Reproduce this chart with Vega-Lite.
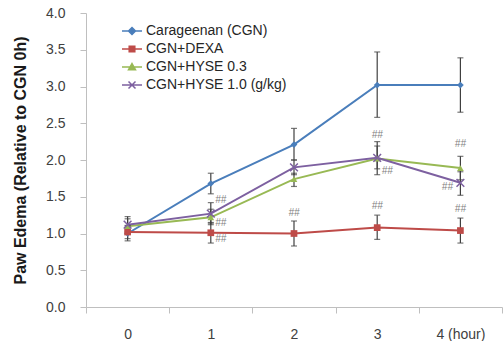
{
  "$schema": "https://vega.github.io/schema/vega-lite/v6.json",
  "width": 416,
  "height": 294,
  "padding": {"left": 12, "top": 6, "right": 0, "bottom": 0},
  "config": {
    "view": {"stroke": null},
    "font": "Liberation Sans",
    "axisY": {
      "grid": false,
      "domainColor": "#BFBFBF",
      "tickColor": "#BFBFBF",
      "tickSize": 6,
      "labelPadding": 15,
      "labelFontSize": 14,
      "labelColor": "#404040",
      "titleFontSize": 16,
      "titleFontWeight": "bold",
      "titleColor": "#1a1a1a",
      "titlePadding": 17
    }
  },
  "datasets": {
    "series": [
      {"series": "Carageenan (CGN)", "hour": "0", "value": 1.0, "lo": 0.9, "hi": 1.1},
      {"series": "Carageenan (CGN)", "hour": "1", "value": 1.68, "lo": 1.54, "hi": 1.82},
      {"series": "Carageenan (CGN)", "hour": "2", "value": 2.21, "lo": 2.0, "hi": 2.43},
      {"series": "Carageenan (CGN)", "hour": "3", "value": 3.02, "lo": 2.58, "hi": 3.47},
      {"series": "Carageenan (CGN)", "hour": "4 (hour)", "value": 3.02, "lo": 2.65, "hi": 3.39},
      {"series": "CGN+DEXA", "hour": "0", "value": 1.02, "lo": 0.93, "hi": 1.11},
      {"series": "CGN+DEXA", "hour": "1", "value": 1.01, "lo": 0.87, "hi": 1.15},
      {"series": "CGN+DEXA", "hour": "2", "value": 1.0, "lo": 0.83, "hi": 1.17},
      {"series": "CGN+DEXA", "hour": "3", "value": 1.08, "lo": 0.92, "hi": 1.25},
      {"series": "CGN+DEXA", "hour": "4 (hour)", "value": 1.04, "lo": 0.87, "hi": 1.21},
      {"series": "CGN+HYSE 0.3", "hour": "0", "value": 1.1, "lo": 1.0, "hi": 1.2},
      {"series": "CGN+HYSE 0.3", "hour": "1", "value": 1.22, "lo": 1.12, "hi": 1.33},
      {"series": "CGN+HYSE 0.3", "hour": "2", "value": 1.74, "lo": 1.64, "hi": 1.82},
      {"series": "CGN+HYSE 0.3", "hour": "3", "value": 2.02, "lo": 1.88, "hi": 2.19},
      {"series": "CGN+HYSE 0.3", "hour": "4 (hour)", "value": 1.89, "lo": 1.73, "hi": 2.05},
      {"series": "CGN+HYSE 1.0 (g/kg)", "hour": "0", "value": 1.12, "lo": 1.02, "hi": 1.23},
      {"series": "CGN+HYSE 1.0 (g/kg)", "hour": "1", "value": 1.27, "lo": 1.14, "hi": 1.42},
      {"series": "CGN+HYSE 1.0 (g/kg)", "hour": "2", "value": 1.9, "lo": 1.8, "hi": 2.0},
      {"series": "CGN+HYSE 1.0 (g/kg)", "hour": "3", "value": 2.03, "lo": 1.8, "hi": 2.25},
      {"series": "CGN+HYSE 1.0 (g/kg)", "hour": "4 (hour)", "value": 1.69, "lo": 1.52, "hi": 1.84}
    ],
    "notes": [
      {"hour": "1", "y": 1.45, "label": "##", "side": "right"},
      {"hour": "1", "y": 1.14, "label": "##", "side": "right"},
      {"hour": "1", "y": 0.93, "label": "##", "side": "right"},
      {"hour": "2", "y": 1.28, "label": "##", "side": "above"},
      {"hour": "3", "y": 2.34, "label": "##", "side": "above"},
      {"hour": "3", "y": 1.85, "label": "##", "side": "right"},
      {"hour": "3", "y": 1.38, "label": "##", "side": "above"},
      {"hour": "4 (hour)", "y": 2.22, "label": "##", "side": "above"},
      {"hour": "4 (hour)", "y": 1.63, "label": "##", "side": "left"},
      {"hour": "4 (hour)", "y": 1.33, "label": "##", "side": "above"}
    ]
  },
  "encoding": {
    "x": {
      "field": "hour",
      "type": "ordinal",
      "bandPosition": 0.5,
      "scale": {"type": "band", "domain": ["0", "1", "2", "3", "4 (hour)"], "paddingInner": 0, "paddingOuter": 0},
      "axis": {
        "title": null,
        "labelAngle": 0,
        "tickBand": "extent",
        "domainColor": "#BFBFBF",
        "tickColor": "#BFBFBF",
        "tickSize": 6,
        "labelPadding": 14,
        "labelFontSize": 14,
        "labelColor": "#404040",
        "grid": false
      }
    }
  },
  "layer": [
    {
      "data": {"name": "series"},
      "mark": {"type": "line", "strokeWidth": 2},
      "encoding": {
        "y": {
          "field": "value",
          "type": "quantitative",
          "title": "Paw Edema (Relative to CGN 0h)",
          "scale": {"domain": [0, 4]},
          "axis": {"values": [0, 0.5, 1, 1.5, 2, 2.5, 3, 3.5, 4], "format": ".1f"}
        },
        "color": {
          "field": "series",
          "type": "nominal",
          "scale": {
            "domain": ["Carageenan (CGN)", "CGN+DEXA", "CGN+HYSE 0.3", "CGN+HYSE 1.0 (g/kg)"],
            "range": ["#4A7EBB", "#BE4B48", "#98B954", "#7D60A0"]
          },
          "legend": {
            "orient": "none",
            "legendX": 35,
            "legendY": 7,
            "title": null,
            "labelFontSize": 14,
            "labelColor": "#262626",
            "symbolSize": 400,
            "rowPadding": 0,
            "labelOffset": 3,
            "symbolStrokeWidth": 1.5,
            "encode": {
              "symbols": {
                "update": {
                  "shape": {"signal": "datum.value == 'Carageenan (CGN)' ? 'M-1,0H1M0,-0.35L0.35,0L0,0.35L-0.35,0Z' : datum.value == 'CGN+DEXA' ? 'M-1,0H1M-0.28,-0.28H0.28V0.28H-0.28Z' : datum.value == 'CGN+HYSE 0.3' ? 'M-1,0H1M0,-0.35L0.35,0.28H-0.35Z' : 'M-1,0H1M-0.35,-0.35L0.35,0.35M-0.35,0.35L0.35,-0.35'"},
                  "fill": {"scale": "color", "field": "value"},
                  "stroke": {"scale": "color", "field": "value"}
                }
              }
            }
          }
        }
      }
    },
    {
      "data": {"name": "series"},
      "mark": {"type": "rule", "color": "#404040", "strokeWidth": 1.2},
      "encoding": {
        "y": {"field": "lo", "type": "quantitative", "title": "Paw Edema (Relative to CGN 0h)", "axis": {"values": [0, 0.5, 1, 1.5, 2, 2.5, 3, 3.5, 4], "format": ".1f"}},
        "y2": {"field": "hi"}
      }
    },
    {
      "data": {"name": "series"},
      "mark": {"type": "tick", "color": "#404040", "thickness": 1.2, "size": 6, "orient": "horizontal"},
      "encoding": {
        "y": {"field": "lo", "type": "quantitative", "title": "Paw Edema (Relative to CGN 0h)", "axis": {"values": [0, 0.5, 1, 1.5, 2, 2.5, 3, 3.5, 4], "format": ".1f"}}
      }
    },
    {
      "data": {"name": "series"},
      "mark": {"type": "tick", "color": "#404040", "thickness": 1.2, "size": 6, "orient": "horizontal"},
      "encoding": {
        "y": {"field": "hi", "type": "quantitative", "title": "Paw Edema (Relative to CGN 0h)", "axis": {"values": [0, 0.5, 1, 1.5, 2, 2.5, 3, 3.5, 4], "format": ".1f"}}
      }
    },
    {
      "data": {"name": "series"},
      "transform": [{"filter": "datum.series != 'CGN+HYSE 1.0 (g/kg)'"}],
      "mark": {"type": "point", "filled": true, "opacity": 1, "size": 45},
      "encoding": {
        "y": {"field": "value", "type": "quantitative", "title": "Paw Edema (Relative to CGN 0h)", "axis": {"values": [0, 0.5, 1, 1.5, 2, 2.5, 3, 3.5, 4], "format": ".1f"}},
        "color": {"field": "series", "type": "nominal", "legend": null},
        "shape": {
          "field": "series",
          "type": "nominal",
          "scale": {"domain": ["Carageenan (CGN)", "CGN+DEXA", "CGN+HYSE 0.3"], "range": ["diamond", "square", "triangle-up"]},
          "legend": null
        }
      }
    },
    {
      "data": {"name": "series"},
      "transform": [{"filter": "datum.series == 'CGN+HYSE 1.0 (g/kg)'"}],
      "mark": {"type": "point", "shape": "M-1,-1L1,1M-1,1L1,-1", "filled": false, "opacity": 1, "strokeWidth": 1.5, "size": 60, "color": "#7D60A0"},
      "encoding": {
        "y": {"field": "value", "type": "quantitative", "title": "Paw Edema (Relative to CGN 0h)", "axis": {"values": [0, 0.5, 1, 1.5, 2, 2.5, 3, 3.5, 4], "format": ".1f"}}
      }
    },
    {
      "data": {"name": "notes"},
      "transform": [{"filter": "datum.side == 'above'"}],
      "mark": {"type": "text", "fontStyle": "italic", "fontSize": 10, "color": "#7f7f7f", "baseline": "middle"},
      "encoding": {
        "y": {"field": "y", "type": "quantitative", "title": "Paw Edema (Relative to CGN 0h)", "axis": {"values": [0, 0.5, 1, 1.5, 2, 2.5, 3, 3.5, 4], "format": ".1f"}},
        "text": {"field": "label"}
      }
    },
    {
      "data": {"name": "notes"},
      "transform": [{"filter": "datum.side == 'right'"}],
      "mark": {"type": "text", "fontStyle": "italic", "fontSize": 10, "color": "#7f7f7f", "baseline": "middle", "dx": 10},
      "encoding": {
        "y": {"field": "y", "type": "quantitative", "title": "Paw Edema (Relative to CGN 0h)", "axis": {"values": [0, 0.5, 1, 1.5, 2, 2.5, 3, 3.5, 4], "format": ".1f"}},
        "text": {"field": "label"}
      }
    },
    {
      "data": {"name": "notes"},
      "transform": [{"filter": "datum.side == 'left'"}],
      "mark": {"type": "text", "fontStyle": "italic", "fontSize": 10, "color": "#7f7f7f", "baseline": "middle", "dx": -13},
      "encoding": {
        "y": {"field": "y", "type": "quantitative", "title": "Paw Edema (Relative to CGN 0h)", "axis": {"values": [0, 0.5, 1, 1.5, 2, 2.5, 3, 3.5, 4], "format": ".1f"}},
        "text": {"field": "label"}
      }
    }
  ]
}
